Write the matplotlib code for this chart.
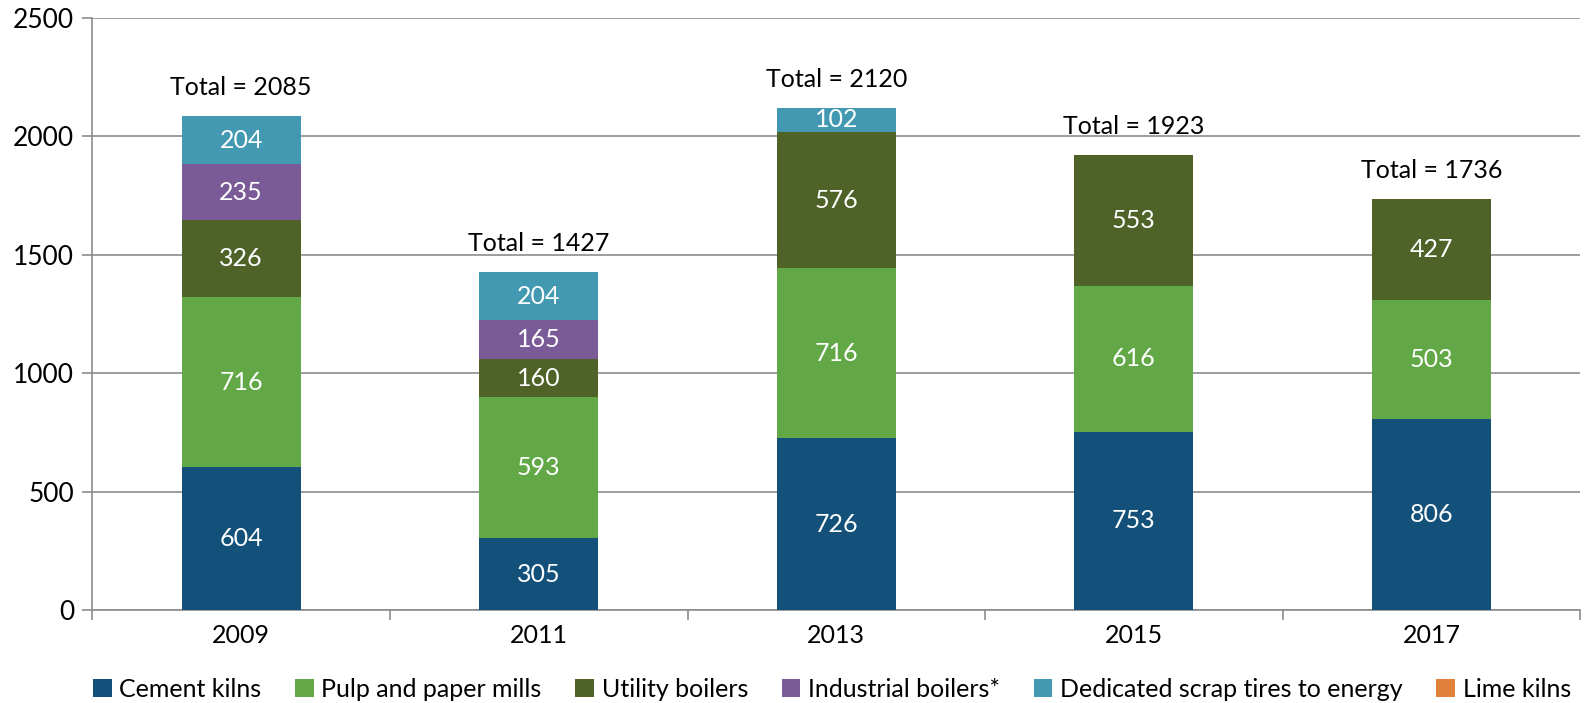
import numpy as np
import matplotlib.pyplot as plt

# chart data
years = ['2009', '2011', '2013', '2015', '2017']
cement = [604, 305, 726, 753, 806]
pulp = [716, 593, 716, 616, 503]
utility = [326, 160, 576, 553, 427]
industrial = [235, 165, 0, 0, 0]
scrap = [204, 204, 102, 0, 0]
lime = [0, 0, 0, 0, 0]
totals = [2085, 1427, 2120, 1923, 1736]

series = [('Cement kilns', cement, '#14517a'),
          ('Pulp and paper mills', pulp, '#62a846'),
          ('Utility boilers', utility, '#4f6228'),
          ('Industrial boilers*', industrial, '#7a5a97'),
          ('Dedicated scrap tires to energy', scrap, '#4299b1'),
          ('Lime kilns', lime, '#e0803a')]

plt.rcParams['font.family'] = ['Lato', 'DejaVu Sans']
plt.rcParams['font.size'] = 18

fig = plt.figure(figsize=(15.93, 7.03), dpi=100)
ax = fig.add_axes([0.058, 0.132, 0.934, 0.843])

x = np.arange(len(years))
bottom = np.zeros(len(years))
for name, vals, col in series:
    vals = np.array(vals, dtype=float)
    ax.bar(x, vals, 0.4, bottom=bottom, color=col, label=name, zorder=3)
    for i, v in enumerate(vals):
        if v > 0:
            ax.text(x[i], bottom[i] + v / 2, str(int(v)), ha='center', va='center',
                    color='white', fontsize=18, zorder=4)
    bottom += vals

# totals above each bar
for i, t in enumerate(totals):
    ax.annotate('Total = %d' % t, (x[i], bottom[i]), xytext=(0, 12),
                textcoords='offset points', ha='center', va='bottom', fontsize=18)

ax.set_xlim(-0.5, len(years) - 0.5)
ax.set_ylim(0, 2500)
ax.set_yticks(range(0, 2501, 500))
ax.yaxis.grid(True, color='#8c8c8c', linewidth=1.2, zorder=0)
ax.set_xticks(x)
ax.set_xticklabels(years)
ax.set_xticks(np.arange(-0.5, len(years)), minor=True)
ax.tick_params(axis='x', which='major', length=0, pad=10)
ax.tick_params(axis='x', which='minor', length=7, color='#8c8c8c', width=1.2)
ax.tick_params(axis='y', length=7, color='#8c8c8c', width=1.2, pad=6, labelsize=19)
for s in ['top', 'right']:
    ax.spines[s].set_visible(False)
for s in ['left', 'bottom']:
    ax.spines[s].set_color('#8c8c8c')
    ax.spines[s].set_linewidth(1.2)

ax.legend(loc='center', bbox_to_anchor=(0.497, -0.133), ncol=6, frameon=False,
          handlelength=0.75, handleheight=0.75, handletextpad=0.3, columnspacing=1.35,
          fontsize=18)

fig.savefig('out.png', dpi=100)
